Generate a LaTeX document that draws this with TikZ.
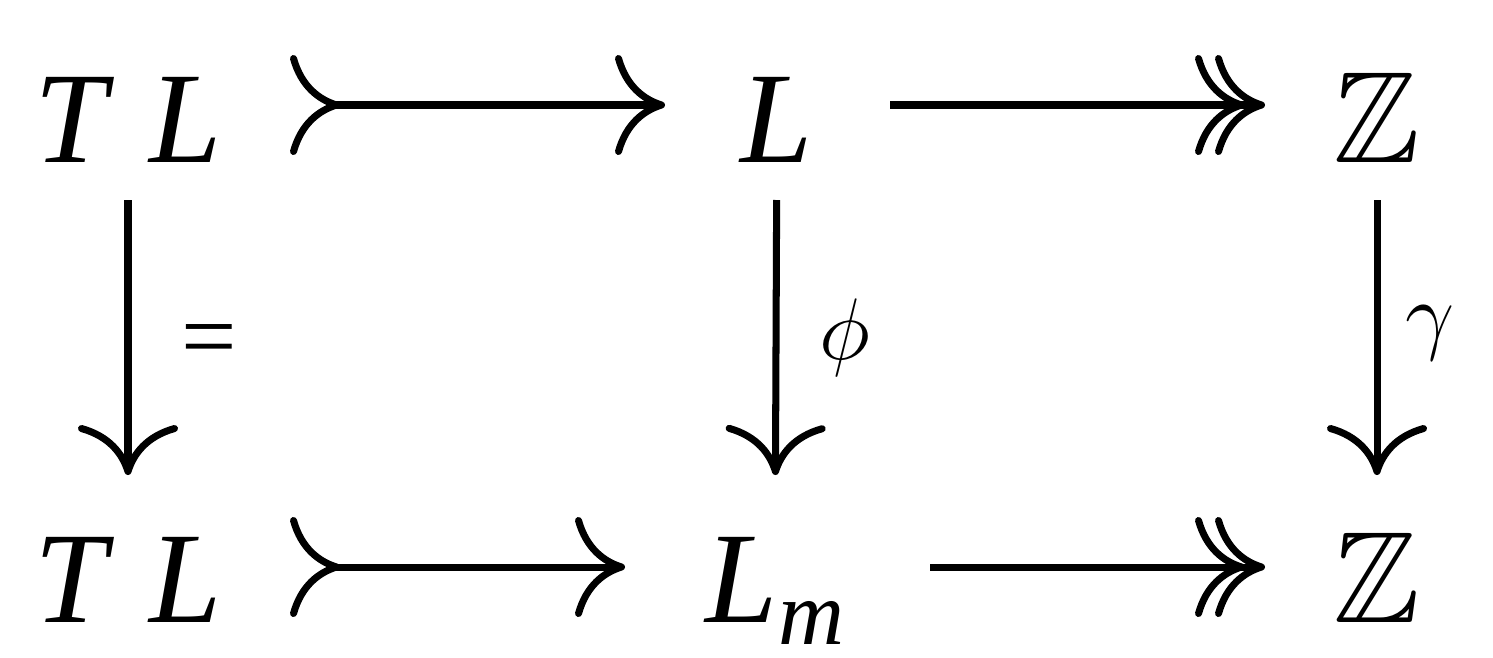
\documentclass[tikz,border=0pt]{standalone}
\usepackage{amssymb}
\usepackage{fontspec}
\setmainfont{Liberation Serif}
\usetikzlibrary{arrows.meta}
\begin{document}
\begin{tikzpicture}[
  obj/.style={inner sep=0pt,text height=9mm,text depth=0pt,font=\fontsize{37}{42}\selectfont},
  lab/.style={inner sep=0pt,font=\fontsize{28}{32}\selectfont},
  lw/.style={line width=2pt},
  mono/.style={lw,{Computer Modern Rightarrow[length=5mm,width=10mm,line width=2pt,reversed]}-{Computer Modern Rightarrow[length=5mm,width=10mm,line width=2pt]}},
  epi/.style={lw,-{Computer Modern Rightarrow[length=5mm,width=10mm,line width=2pt,sep=-3mm]Computer Modern Rightarrow[length=5mm,width=10mm,line width=2pt]}},
  tarr/.style={lw,-{Computer Modern Rightarrow[length=5mm,width=10mm,line width=2pt]}}
]
\useasboundingbox (0,0) rectangle (14.93,6.57);
\node[obj] (a) at (1.28,5.40) {\textit{T\,\,L}};
\node[obj] (b) at (7.77,5.40) {\textit{L}};
\node[obj] (c) at (13.77,5.40) {$\mathbb{Z}$};
\node[obj] (d) at (1.28,0.80) {\textit{T\,\,L}};
\node[obj] (e) at (7.75,0.80) {\textit{L}{\fontsize{26}{26}\selectfont\raisebox{-0.25em}{\textit{m}}}};
\node[obj] (f) at (13.77,0.80) {$\mathbb{Z}$};
\draw[mono,shorten <=16.2mm,shorten >=11.2mm] ([yshift=1.2mm]a.center) -- ([yshift=1.2mm]b.center);
\draw[epi,shorten <=11.3mm,shorten >=11.2mm] ([yshift=1.2mm]b.center) -- ([yshift=1.2mm]c.center);
\draw[mono,shorten <=16.2mm,shorten >=15mm] ([yshift=1mm]d.center) -- ([yshift=1mm]e.center);
\draw[epi,shorten <=15.5mm,shorten >=11.2mm] ([yshift=1mm]e.center) -- ([yshift=1mm]f.center);
\draw[tarr,shorten <=8.3mm,shorten >=10.2mm] (a.center) -- (d.center) node[lab,pos=0.5,right=5mm] (l1) {=};
\draw[tarr,shorten <=8.3mm,shorten >=10.2mm] (b.center) -- (e.center) node[lab,pos=0.48,right=4mm] (l2) {$\phi$};
\draw[tarr,shorten <=8.3mm,shorten >=10.2mm] (c.center) -- (f.center) node[lab,pos=0.47,right=2.5mm] (l3) {$\gamma$};
\end{tikzpicture}
\end{document}
